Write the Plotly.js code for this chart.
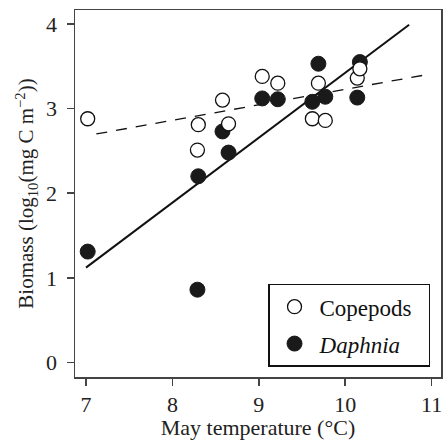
<!DOCTYPE html>
<html>
<head>
<meta charset="utf-8">
<script src="https://cdn.plot.ly/plotly-3.0.1.min.js"></script>
<style>html,body{margin:0;padding:0;background:#fff;}#chart{width:443px;height:440px;}</style>
</head>
<body>
<div id="chart"></div>
<script>
// Copepods (open circles)
const copepodTemp = [7.02, 8.30, 8.29, 8.58, 8.65, 9.04, 9.22, 9.69, 9.62, 9.77, 10.14, 10.17];
const copepodBiomass = [2.88, 2.81, 2.51, 3.10, 2.82, 3.38, 3.30, 3.30, 2.88, 2.86, 3.36, 3.47];
// Daphnia (filled circles)
const daphniaTemp = [7.02, 8.29, 8.30, 8.65, 8.58, 9.04, 9.22, 9.62, 9.77, 9.69, 10.14, 10.17];
const daphniaBiomass = [1.31, 0.86, 2.20, 2.48, 2.73, 3.12, 3.11, 3.08, 3.14, 3.53, 3.13, 3.55];
// Fitted lines (endpoints)
const daphniaFitX = [7.0, 10.74];
const daphniaFitY = [1.12, 3.99];
const copepodFitX = [7.12, 10.94];
const copepodFitY = [2.70, 3.40];
const xTicks = [7, 8, 9, 10, 11];
const yTicks = [0, 1, 2, 3, 4];

const FONT = 'Liberation Serif, serif';
const traces = [
  {x: daphniaFitX, y: daphniaFitY, mode: 'lines', line: {color: '#111', width: 2}, showlegend: false, hoverinfo: 'skip'},
  {x: copepodFitX, y: copepodFitY, mode: 'lines', line: {color: '#111', width: 1.3, dash: '11px,9px'}, showlegend: false, hoverinfo: 'skip'},
  {x: daphniaTemp, y: daphniaBiomass, mode: 'markers', name: '<i>Daphnia</i>', legendgroup: 'd', legendrank: 2,
   marker: {symbol: 'circle', size: 15, color: '#1a1a1a', line: {color: '#1a1a1a', width: 1}}},
  {x: copepodTemp, y: copepodBiomass, mode: 'markers', name: 'Copepods\u00a0\u00a0', legendgroup: 'c', legendrank: 1,
   marker: {symbol: 'circle', size: 14, color: '#fff', line: {color: '#111', width: 1.3}}}
];

const layout = {
  width: 443, height: 440,
  margin: {l: 75, r: 2, t: 10, b: 63},
  paper_bgcolor: '#fff', plot_bgcolor: '#fff',
  font: {family: FONT, size: 22, color: '#222'},
  showlegend: true,
  legend: {
    x: 0.97, y: 0.028, xanchor: 'right', yanchor: 'bottom',
    bordercolor: '#111', borderwidth: 1.5, bgcolor: '#fff',
    traceorder: 'grouped', tracegroupgap: 4,
    font: {family: FONT, size: 23, color: '#111'},
    itemwidth: 40
  },
  xaxis: {
    range: [6.873, 11.109], tickvals: xTicks, ticktext: xTicks.map(String),
    ticks: 'outside', ticklen: 7, tickwidth: 1.5, tickcolor: '#444',
    showline: true, mirror: true, linecolor: '#444', linewidth: 1.5,
    showgrid: false, zeroline: false,
    tickfont: {family: FONT, size: 22, color: '#222'},
    title: {text: 'May temperature (°C)', font: {family: FONT, size: 22, color: '#222'}, standoff: 0}
  },
  yaxis: {
    range: [-0.172, 4.165], tickvals: yTicks, ticktext: yTicks.map(String),
    ticks: 'outside', ticklen: 7, tickwidth: 1.5, tickcolor: '#444',
    showline: true, mirror: true, linecolor: '#444', linewidth: 1.5,
    showgrid: false, zeroline: false, ticklabelstandoff: 5,
    tickfont: {family: FONT, size: 22, color: '#222'},
    title: {text: 'Biomass (log<sub>10</sub>(mg C m<sup>−2</sup>))', font: {family: FONT, size: 21, color: '#222'}, standoff: 6}
  }
};

Plotly.newPlot('chart', traces, layout, {displayModeBar: false, staticPlot: true});
</script>
</body>
</html>
